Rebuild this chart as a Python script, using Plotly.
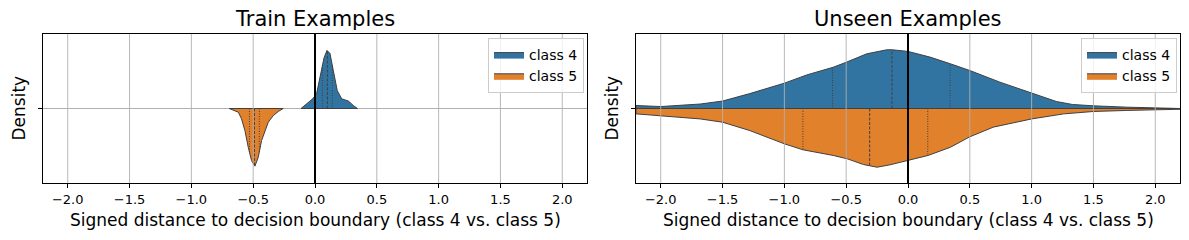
import numpy as np
import plotly.graph_objects as go

# ---------------- data ----------------
classes = ["class 4", "class 5"]
colors = ["#3274a1", "#e1812c"]
x_ticks = [-2.0, -1.5, -1.0, -0.5, 0.0, 0.5, 1.0, 1.5, 2.0]
x_tick_labels = ["\u22122.0", "\u22121.5", "\u22121.0", "\u22120.5", "0.0", "0.5", "1.0", "1.5", "2.0"]
panel_titles = ["Train Examples", "Unseen Examples"]
x_label = "Signed distance to decision boundary (class 4 vs. class 5)"
y_label = "Density"

# Train: class 4 density profile (half-violin width)
train_c4_x = [-0.113, -0.016, 0.013, 0.046, 0.073, 0.097, 0.121, 0.148, 0.18, 0.216, 0.27, 0.31, 0.343]
train_c4_d = [0.0, 0.067, 0.10, 0.23, 0.34, 0.39, 0.37, 0.255, 0.12, 0.065, 0.05, 0.02, 0.0]
train_c4_q = [0.06, 0.10, 0.14]

# Train: class 5
train_c5_x = [-0.694, -0.62, -0.594, -0.567, -0.54, -0.513, -0.486, -0.459, -0.432, -0.405, -0.378, -0.337, -0.297, -0.257]
train_c5_d = [0.0, 0.025, 0.07, 0.148, 0.26, 0.35, 0.387, 0.327, 0.215, 0.148, 0.092, 0.047, 0.02, 0.0]
train_c5_q = [-0.53, -0.49, -0.45]

# Unseen: class 4
unseen_c4_x = [-2.2, -2.0, -1.68, -1.5, -1.28, -1.0, -0.82, -0.605, -0.5, -0.334, -0.172, -0.127, 0.0,
               0.178, 0.343, 0.5, 0.743, 1.0, 1.2, 1.33, 1.5, 1.77, 2.0, 2.2]
unseen_c4_d = [0.02, 0.013, 0.03, 0.05, 0.10, 0.17, 0.225, 0.277, 0.31, 0.367, 0.394, 0.394, 0.383,
               0.345, 0.30, 0.255, 0.177, 0.103, 0.047, 0.027, 0.018, 0.009, 0.004, 0.002]
unseen_c4_q = [-0.61, -0.13, 0.34]

# Unseen: class 5
unseen_c5_x = [-2.2, -2.0, -1.68, -1.5, -1.28, -1.0, -0.85, -0.605, -0.49, -0.36, -0.25, -0.146, -0.094, 0.0,
               0.163, 0.343, 0.5, 0.69, 1.0, 1.26, 1.5, 1.77, 2.0, 2.2]
unseen_c5_d = [0.036, 0.05, 0.07, 0.092, 0.148, 0.237, 0.277, 0.315, 0.338, 0.376, 0.394, 0.378, 0.367, 0.345,
               0.315, 0.26, 0.19, 0.125, 0.07, 0.036, 0.02, 0.013, 0.009, 0.005]
unseen_c5_q = [-0.85, -0.31, 0.16]

panels = [
    [(train_c4_x, train_c4_d, train_c4_q), (train_c5_x, train_c5_d, train_c5_q)],
    [(unseen_c4_x, unseen_c4_d, unseen_c4_q), (unseen_c5_x, unseen_c5_d, unseen_c5_q)],
]

# ---------------- figure ----------------
W, H = 1189, 240
EDGE = "#404040"
GRID = "#b0b0b0"
FONT = "DejaVu Sans"

fig = go.Figure()
x_domains = [[43 / W, 587 / W], [636 / W, 1180 / W]]
y_domain = [1 - 183 / H, 1 - 34 / H]

for p, panel in enumerate(panels):
    xa = "x" if p == 0 else "x2"
    ya = "y" if p == 0 else "y2"
    leg = "legend" if p == 0 else "legend2"
    for c, (xs, ds, qs) in enumerate(panel):
        sign = 1 if c == 0 else -1
        xs = np.asarray(xs)
        ds = np.asarray(ds) * sign
        px = np.concatenate([xs, xs[::-1], xs[:1]])
        py = np.concatenate([ds, np.zeros_like(ds), ds[:1]])
        fig.add_trace(go.Scatter(
            x=px, y=py, mode="lines", fill="toself", fillcolor=colors[c],
            line=dict(color=EDGE, width=1), name=classes[c], legend=leg,
            xaxis=xa, yaxis=ya, hoverinfo="skip"))
        for k, q in enumerate(qs):
            h = np.interp(q, xs, ds)
            fig.add_trace(go.Scatter(
                x=[q, q], y=[0, h], mode="lines",
                line=dict(color=EDGE, width=1, dash="3px,1.5px" if k == 1 else "1px,1.5px"),
                showlegend=False, xaxis=xa, yaxis=ya, hoverinfo="skip"))
    # grid lines above the violins
    for t in x_ticks:
        fig.add_shape(type="line", xref=xa, yref=f"{ya} domain", x0=t, x1=t, y0=0, y1=1,
                      line=dict(color=GRID, width=0.9), layer="above")
    fig.add_shape(type="line", xref=xa, yref=f"{ya} domain", x0=0, x1=0, y0=0, y1=1,
                  line=dict(color="black", width=2), layer="above")

axis_common = dict(showline=True, linecolor="black", linewidth=1, mirror=True,
                   ticks="outside", ticklen=4, tickcolor="black", tickwidth=1,
                   tickfont=dict(family=FONT, size=13, color="black"), zeroline=False)
for p in range(2):
    sx = "" if p == 0 else "2"
    fig.update_layout({
        f"xaxis{sx}": dict(axis_common, domain=x_domains[p], range=[-2.2, 2.2],
                           tickvals=x_ticks, ticktext=x_tick_labels, showgrid=False,
                           anchor=f"y{sx}"),
        f"yaxis{sx}": dict(axis_common, domain=y_domain, range=[-0.5, 0.5],
                           tickvals=[0], ticktext=[""], showgrid=True, gridcolor=GRID,
                           gridwidth=0.9, anchor=f"x{sx}"),
    })

annotations = []
for p in range(2):
    cx = (x_domains[p][0] + x_domains[p][1]) / 2
    annotations.append(dict(text=panel_titles[p], x=cx, y=1 - 19 / H, xref="paper", yref="paper",
                            showarrow=False, font=dict(family=FONT, size=21, color="black"),
                            xanchor="center", yanchor="middle"))
    annotations.append(dict(text=x_label, x=cx, y=1 - 220 / H, xref="paper", yref="paper",
                            showarrow=False, font=dict(family=FONT, size=17, color="black"),
                            xanchor="center", yanchor="middle"))
    lx = 19 / W if p == 0 else 612 / W
    annotations.append(dict(text=y_label, x=lx, y=(y_domain[0] + y_domain[1]) / 2,
                            xref="paper", yref="paper", textangle=-90, showarrow=False,
                            font=dict(family=FONT, size=17, color="black"),
                            xanchor="center", yanchor="middle"))

legend_common = dict(bgcolor="rgba(255,255,255,0.8)", bordercolor="#cccccc", borderwidth=1,
                     font=dict(family=FONT, size=14, color="black"),
                     xanchor="right", yanchor="top", tracegroupgap=2, itemwidth=30)
fig.update_layout(
    width=W, height=H, margin=dict(l=0, r=0, t=0, b=0),
    paper_bgcolor="white", plot_bgcolor="white",
    annotations=annotations,
    legend=dict(legend_common, x=x_domains[0][1] - 3 / W, y=y_domain[1] - 4 / H),
    legend2=dict(legend_common, x=x_domains[1][1] - 3 / W, y=y_domain[1] - 4 / H),
    showlegend=True,
)

fig.write_html("out.html", config={"displayModeBar": False},
               post_script="document.body.style.margin='0px';document.body.style.overflow='hidden';")
